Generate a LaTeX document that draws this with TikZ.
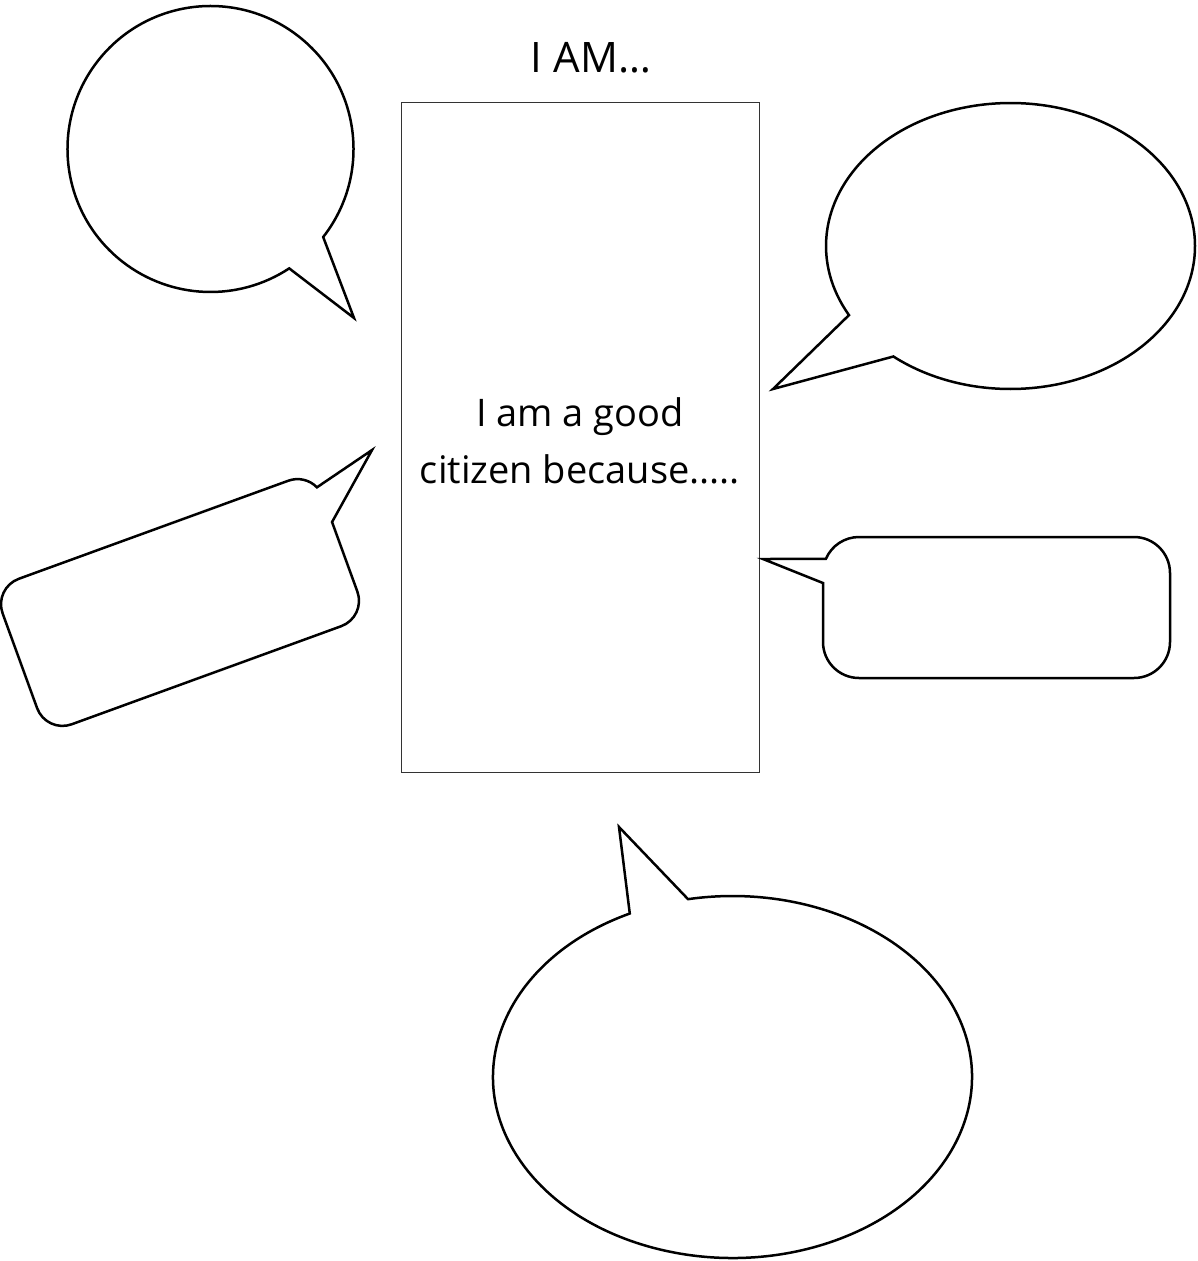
\documentclass[tikz,border=0pt]{standalone}
\usepackage{fontspec}
\setmainfont{Open Sans}
\begin{document}
\begin{tikzpicture}[x=1pt,y=1pt,
  bub/.style={draw=black,line width=2.5pt,fill=white,line join=miter},
  cardbox/.style={draw=black!80,line width=1pt,fill=white,minimum width=358pt,minimum height=670pt,inner sep=0pt},
  lbl/.style={inner sep=0pt,align=center}]
\useasboundingbox (0,0) rectangle (1198,-1261);
\fill[white] (0,0) rectangle (1198,-1261);

% central card
\node[cardbox] (card) at (580,-437) {};
\node[lbl,font=\fontsize{38}{57}\selectfont] (body) at (580,-441) {I am a good\\citizen because.....};
\node[lbl,font=\fontsize{42}{50}\selectfont,anchor=base] (title) at (591,-72) {I AM…};

% bubble 1: round, top left
\draw[bub] ([shift={(-38:143pt)}]210.5,-149) arc[start angle=-38,end angle=303.4,radius=143pt] -- (354,-318) -- cycle;

% bubble 2: ellipse, top right
\draw[bub] ([shift={(230.6:184.5pt and 143pt)}]1010.5,-246) arc[start angle=230.6,end angle=568.9,x radius=184.5pt,y radius=143pt] -- (773,-389) -- cycle;

% bubble 3: rotated rounded rectangle, left
\begin{scope}[shift={(180,-602.5)},rotate=20]
\draw[bub] (170.4,23.6) -- (170.4,-50.4) arc[start angle=0,end angle=-90,radius=27pt] -- (-143.4,-77.4) arc[start angle=270,end angle=180,radius=27pt] -- (-170.4,50.4) arc[start angle=180,end angle=90,radius=27pt] -- (143.4,77.4) arc[start angle=90,end angle=24,radius=27pt] -- (232.6,77.6) -- cycle;
\end{scope}

% bubble 4: rounded rectangle, right
\draw[bub] (763,-559) -- (823,-583) -- (823,-642) arc[start angle=180,end angle=270,radius=36pt] -- (1134,-678) arc[start angle=270,end angle=360,radius=36pt] -- (1170,-573) arc[start angle=0,end angle=90,radius=36pt] -- (859,-537) arc[start angle=90,end angle=157,radius=36pt] -- cycle;

% bubble 5: ellipse, bottom
\draw[bub] ([shift={(115.4:239.5pt and 181pt)}]732.5,-1077) arc[start angle=115.4,end angle=460.7,x radius=239.5pt,y radius=181pt] -- (619,-827) -- cycle;
\end{tikzpicture}
\end{document}
